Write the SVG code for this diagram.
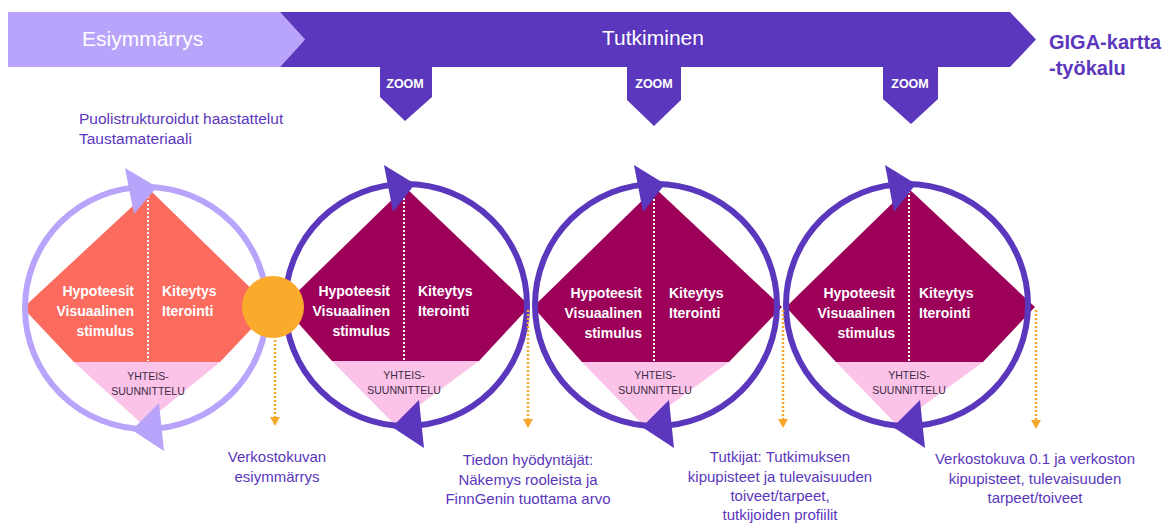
<svg xmlns="http://www.w3.org/2000/svg" width="1169" height="524" viewBox="0 0 1169 524">
<style>
.t{font-family:"Liberation Sans",Arial,sans-serif}
.ban{font-family:"Liberation Sans",Arial,sans-serif;font-size:21px;fill:#fff}
.zoom{font-family:"Liberation Sans",Arial,sans-serif;font-size:12.5px;fill:#fff;text-anchor:middle;font-weight:bold}
.dk{fill:#5a37bc}
.lt{fill:#b8a4fb}
.dtxt{font-family:"Liberation Sans",Arial,sans-serif;font-size:14px;font-weight:bold;fill:#fff}
.co{font-family:"Liberation Sans",Arial,sans-serif;font-size:10.5px;fill:#3a2a45;text-anchor:middle}
.lab{font-family:"Liberation Sans",Arial,sans-serif;font-size:15px;fill:#5a37bc;text-anchor:middle}
.ring{fill:none;stroke:#5a37bc;stroke-width:6}
.ringl{fill:none;stroke:#b8a4fb;stroke-width:6}
.mag{fill:#9c0059}
.sal{fill:#fb6b5e}
.pink{fill:#fbc3e7}
.dot{stroke:#fff;stroke-width:2;stroke-dasharray:2 2}
.oa{stroke:#f6a82b;stroke-width:2.5;stroke-dasharray:2 2;fill:none}
</style>
<defs>
<marker id="oh" viewBox="0 0 10 10" refX="5" refY="10" markerWidth="4" markerHeight="4" orient="auto-start-reverse" markerUnits="strokeWidth">
<path d="M0,0 L10,0 L5,10 Z" fill="#f6a82b" transform="rotate(-90 5 5)"/>
</marker>
<g id="mdiamond">
<polygon points="0,-118 124,1 73,56 -74,56 -123,1"/>
</g>
</defs>
<rect width="1169" height="524" fill="#fff"/>

<g id="banner">
<polygon class="lt" points="8,12 280,12 305,39.5 280,67 8,67"/>
<polygon class="dk" points="280,12 1010,12 1036,39.5 1010,67 280,67 305,39.5"/>
<text class="ban" x="82" y="46">Esiymmärrys</text>
<text class="ban" x="602" y="45">Tutkiminen</text>
</g>

<g id="giga">
<text class="t" x="1049" y="49" font-size="20" font-weight="bold" fill="#5a37bc">GIGA-kartta</text>
<text class="t" x="1049" y="75" font-size="20" font-weight="bold" fill="#5a37bc">-työkalu</text>
</g>

<g id="zoom1">
<polygon class="dk" points="380,66 432,66 432,97 405,121 380,97"/>
<text class="zoom" x="405" y="88">ZOOM</text>
</g>
<g id="zoom2">
<polygon class="dk" points="627,66 681,66 681,100 654,126 627,100"/>
<text class="zoom" x="654" y="88">ZOOM</text>
</g>
<g id="zoom3">
<polygon class="dk" points="883,66 938,66 938,99 911,124 883,99"/>
<text class="zoom" x="910" y="88">ZOOM</text>
</g>

<g id="inputs">
<text class="t" x="79" y="124" font-size="15.5" fill="#5a37bc">Puolistrukturoidut haastattelut</text>
<text class="t" x="79" y="144" font-size="15.5" fill="#5a37bc">Taustamateriaali</text>
</g>

<g id="cycle1">
<polygon class="sal" points="150,190 271,308 220,362 74,362 23,308"/>
<polygon class="pink" points="74,362 220,362 143,425"/>
<line class="dot" x1="148" y1="192" x2="148" y2="361"/>
<circle class="ringl" cx="146" cy="308" r="121"/>
<polygon class="lt" points="125,168 134,214 157,187"/>
<polygon class="lt" points="159,403 164,451 132,430"/>
<text class="dtxt" x="134" y="296" text-anchor="end">Hypoteesit</text>
<text class="dtxt" x="134" y="316" text-anchor="end">Visuaalinen</text>
<text class="dtxt" x="134" y="336" text-anchor="end">stimulus</text>
<text class="dtxt" x="162" y="296">Kiteytys</text>
<text class="dtxt" x="162" y="316">Iterointi</text>
<text class="co" x="148" y="380">YHTEIS-</text>
<text class="co" x="148" y="395">SUUNNITTELU</text>
</g>

<g id="cycle2">
<polygon class="mag" points="405,187 530,306 479,361 332,361 283,306"/>
<polygon class="pink" points="332,361 479,361 394,424"/>
<line class="dot" x1="404" y1="190" x2="404" y2="360"/>
<circle class="ring" cx="406" cy="305" r="121"/>
<polygon class="dk" points="384,165 393,212 415,184"/>
<polygon class="dk" points="419,400 424,448 392,427"/>
<text class="dtxt" x="390" y="296" text-anchor="end">Hypoteesit</text>
<text class="dtxt" x="390" y="316" text-anchor="end">Visuaalinen</text>
<text class="dtxt" x="390" y="336" text-anchor="end">stimulus</text>
<text class="dtxt" x="418" y="296">Kiteytys</text>
<text class="dtxt" x="418" y="316">Iterointi</text>
<text class="co" x="404" y="379">YHTEIS-</text>
<text class="co" x="404" y="394">SUUNNITTELU</text>
</g>

<g id="cycle3">
<polygon class="mag" points="655,188 782,307 729,362 582,362 533,307"/>
<polygon class="pink" points="582,362 729,362 643,425"/>
<line class="dot" x1="654" y1="191" x2="654" y2="361"/>
<circle class="ring" cx="656" cy="305" r="121"/>
<polygon class="dk" points="634,165 643,212 665,184"/>
<polygon class="dk" points="669,400 674,448 642,427"/>
<text class="dtxt" x="642" y="298" text-anchor="end">Hypoteesit</text>
<text class="dtxt" x="642" y="318" text-anchor="end">Visuaalinen</text>
<text class="dtxt" x="642" y="338" text-anchor="end">stimulus</text>
<text class="dtxt" x="669" y="298">Kiteytys</text>
<text class="dtxt" x="669" y="318">Iterointi</text>
<text class="co" x="655" y="379">YHTEIS-</text>
<text class="co" x="655" y="394">SUUNNITTELU</text>
</g>

<g id="cycle4">
<polygon class="mag" points="908,188 1035,307 983,362 836,362 786,307"/>
<polygon class="pink" points="836,362 983,362 897,425"/>
<line class="dot" x1="909" y1="191" x2="909" y2="361"/>
<circle class="ring" cx="907" cy="305" r="121"/>
<polygon class="dk" points="885,165 894,212 916,184"/>
<polygon class="dk" points="920,400 925,448 893,427"/>
<text class="dtxt" x="895" y="298" text-anchor="end">Hypoteesit</text>
<text class="dtxt" x="895" y="318" text-anchor="end">Visuaalinen</text>
<text class="dtxt" x="895" y="338" text-anchor="end">stimulus</text>
<text class="dtxt" x="919" y="298">Kiteytys</text>
<text class="dtxt" x="919" y="318">Iterointi</text>
<text class="co" x="909" y="379">YHTEIS-</text>
<text class="co" x="909" y="394">SUUNNITTELU</text>
</g>

<g id="milestone">
<circle cx="273" cy="307" r="31" fill="#fbab2c"/>
</g>

<g id="connectors">
<line class="oa" x1="275" y1="340" x2="275" y2="418"/>
<polygon points="270,417 280,417 275,426" fill="#f6a82b"/>
<line class="oa" x1="528" y1="310" x2="528" y2="420"/>
<polygon points="523,419 533,419 528,428" fill="#f6a82b"/>
<line class="oa" x1="783" y1="310" x2="783" y2="420"/>
<polygon points="778,419 788,419 783,428" fill="#f6a82b"/>
<line class="oa" x1="1036" y1="310" x2="1036" y2="421"/>
<polygon points="1031,420 1041,420 1036,429" fill="#f6a82b"/>
</g>

<g id="label1">
<text class="lab" x="277" y="462">Verkostokuvan</text>
<text class="lab" x="277" y="482">esiymmärrys</text>
</g>
<g id="label2">
<text class="lab" x="528" y="465">Tiedon hyödyntäjät:</text>
<text class="lab" x="528" y="485">Näkemys rooleista ja</text>
<text class="lab" x="528" y="504">FinnGenin tuottama arvo</text>
</g>
<g id="label3">
<text class="lab" x="780" y="462">Tutkijat: Tutkimuksen</text>
<text class="lab" x="780" y="482">kipupisteet ja tulevaisuuden</text>
<text class="lab" x="780" y="501">toiveet/tarpeet,</text>
<text class="lab" x="780" y="520">tutkijoiden profiilit</text>
</g>
<g id="label4">
<text class="lab" x="1035" y="464">Verkostokuva 0.1 ja verkoston</text>
<text class="lab" x="1035" y="484">kipupisteet, tulevaisuuden</text>
<text class="lab" x="1035" y="503">tarpeet/toiveet</text>
</g>
</svg>
